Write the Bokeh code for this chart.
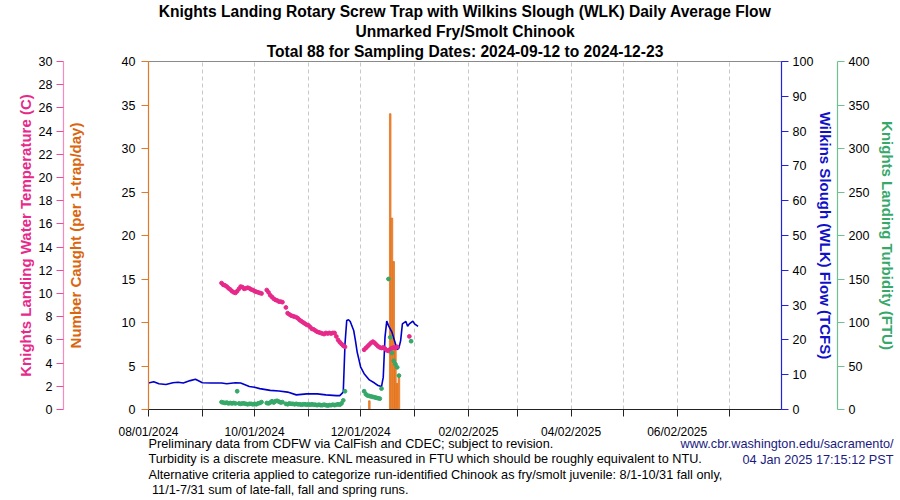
from bokeh.plotting import figure
from bokeh.models import Range1d, LinearAxis, FixedTicker, Label, Title
from bokeh.layouts import column
from bokeh.embed import file_html
from bokeh.resources import INLINE

# ---------------- data (x = days since 2024-08-01) ----------------
count_ticks = [0, 5, 10, 15, 20, 25, 30, 35, 40]
temp_ticks = [0, 2, 4, 6, 8, 10, 12, 14, 16, 18, 20, 22, 24, 26, 28, 30]
flow_ticks = [0, 10, 20, 30, 40, 50, 60, 70, 80, 90, 100]
turb_ticks = [0, 50, 100, 150, 200, 250, 300, 350, 400]

month_start_days = [0, 31, 61, 92, 122, 153, 184, 212, 243, 273, 304, 334]
tick_label_days = [0, 61, 122, 184, 243, 304]
tick_labels = ["08/01/2024", "10/01/2024", "12/01/2024", "02/02/2025", "04/02/2025", "06/02/2025"]

# Number caught (bars)
catch_days = [127, 139, 140, 141, 142, 143, 144]
catch_counts = [1, 34, 22, 17, 7, 3, 4]

# Wilkins Slough daily average flow (TCFS)
flow_days = [0, 3, 6, 10, 14, 17, 20, 24, 27, 31, 36, 42, 45, 50, 53, 58, 61, 64, 70, 75,
             80, 85, 91, 97, 102, 108, 110, 112, 113, 114, 115, 116, 118, 119, 120, 122, 124,
             127, 130, 132, 134, 135, 136, 137, 138, 140, 142, 143, 144, 145, 146, 148, 149,
             150, 152, 153, 155]
flow_values = [7.6, 8.0, 7.4, 7.2, 7.7, 7.85, 7.6, 8.3, 8.7, 7.7, 7.6, 7.6, 7.4, 7.7, 7.6, 6.6,
               6.4, 6.0, 5.5, 5.3, 5.0, 4.2, 4.5, 4.5, 4.2, 4.0, 4.0, 5.0, 18.9, 25.6, 25.8,
               25.3, 22.7, 19.8, 16.5, 12.2, 10.3, 8.5, 7.6, 6.9, 6.6, 9.3, 20.8, 25.4, 24.1,
               22.2, 18.9, 17.2, 17.7, 19.8, 24.6, 25.3, 23.9, 24.6, 25.4, 24.6, 23.9]

# Daily series starting 2024-09-12 (day 42); None = no reading
daily_start_day = 42
temp_values = [10.9, 10.75, 10.7, 10.6, 10.45, 10.35, 10.2, 10.1, 10.05, 10.2, 10.4, 10.6,
               10.55, 10.4, 10.45, 10.5, 10.45, 10.35, 10.3, 10.2, 10.15, 10.1, 10.05, 10.0,
               None, None, 10.3, 10.1, 9.85, 9.7, 9.55, 9.45, 9.4, 9.3, 9.3, 9.25,
               None, 8.8, 8.3, 8.2, 8.1, 8.05, 8.0, 7.95, 7.85, 7.7, 7.6, 7.5, 7.4, 7.3, 7.25,
               7.1, 6.95, 6.9, 6.8, 6.7, 6.65, 6.6, 6.55, 6.5, 6.6, 6.55, 6.6, 6.55, 6.6, 6.6,
               6.3, 6.0, 5.8, 5.65, 5.5, 5.4,
               None, None, None, None, None, None, None, None, None, None,
               5.15, 5.3, 5.45, 5.6, 5.75, 5.85, 5.75, 5.6, 5.45, 5.35, 5.3, 5.35, 5.25, 5.1,
               5.05, 5.2, 5.3, 5.35, 5.3, 5.4,
               None, None, None, None, None, None, 6.3]
turb_values = [8.5, 8.0, 7.5, 8.0, 7.0, 7.5, 7.0, 7.5, 7.0, 21.0, 7.0, 6.5, 7.0, 7.0, 6.5,
               6.0, 6.5, 6.5, 6.0, 6.5, 6.0, 7.0, 7.5, 8.5,
               None, None, 7.5, 7.0, 8.0, 9.5, 8.0, 9.5, 10.0, 9.0, 8.0, 8.5,
               None, 6.5, 6.0, 7.0, 6.5, 6.5, 6.0, 6.5, 6.0, 6.0, 5.5, 6.0, 6.0, 5.5, 6.0,
               5.5, 6.0, 5.5, 5.5, 5.0, 5.5, 5.0, 5.0, 5.5, 5.0, 4.5, 5.0, 5.0, 5.5, 5.0,
               5.5, 6.0, 5.5, 7.0, 10.5, 21.0,
               None, None, None, None, None, None, None, None, None, None,
               21.0, 17.5, 16.0, 15.5, 15.0, 14.5, 14.0, 13.5, 13.0, 12.5, 24.0, None, None,
               None, 150.0, 83.0, 65.0, 56.0, 52.0, 48.5, 39.0,
               None, None, None, None, None, None, 78.5]

title_lines = ["Knights Landing Rotary Screw Trap with Wilkins Slough (WLK) Daily Average Flow",
               "Unmarked Fry/Smolt Chinook",
               "Total 88 for Sampling Dates: 2024-09-12 to 2024-12-23"]
note_lines = ["Preliminary data from CDFW via CalFish and CDEC; subject to revision.",
              "Turbidity is a discrete measure. KNL measured in FTU which should be roughly equivalent to NTU.",
              "Alternative criteria applied to categorize run-identified Chinook as fry/smolt juvenile: 8/1-10/31 fall only,",
              " 11/1-7/31 sum of late-fall, fall and spring runs."]
source_lines = ["www.cbr.washington.edu/sacramento/", "04 Jan 2025 17:15:12 PST"]

# ---------------- styles ----------------
FONT = "Liberation Sans"
ORANGE = "#D9660F"
PINK = "#E7298A"
BLUE = "#0000CC"
GREEN = "#36A86A"

temp_days = [daily_start_day + i for i in range(len(temp_values))]
turb_days = [daily_start_day + i for i in range(len(turb_values))]
temp_vals = [float("nan") if v is None else v for v in temp_values]
turb_vals = [float("nan") if v is None else v for v in turb_values]

p = figure(width=900, height=442, output_backend="svg", toolbar_location=None, title=None,
           x_range=Range1d(0, 364), y_range=Range1d(0, 40),
           min_border_left=148, min_border_right=119, min_border_top=61, min_border_bottom=33)
p.extra_y_ranges = {"temp": Range1d(0, 30), "flow": Range1d(0, 100), "turb": Range1d(0, 400)}
p.outline_line_color = "#8a8a8a"
p.background_fill_color = "white"
p.border_fill_color = "white"

# title lines: the one added first sits nearest the frame
title_standoffs = [2, 0, 2]
for t, s in reversed(list(zip(title_lines, title_standoffs))):
    p.add_layout(Title(text=t, align="center", vertical_align="middle", standoff=s,
                       text_font=FONT, text_font_size="15.6px", text_font_style="bold",
                       text_color="black"), "above")


def style_axis(ax, line_color, tick_color, label_color, title):
    ax.axis_line_color = line_color
    ax.axis_line_width = 1.2
    ax.major_tick_line_color = tick_color
    ax.major_tick_out = 7
    ax.major_tick_in = 0
    ax.minor_tick_line_color = None
    ax.major_label_text_font = FONT
    ax.major_label_text_font_size = "12.5px"
    ax.major_label_text_color = "black"
    ax.axis_label = title
    ax.axis_label_text_font = FONT
    ax.axis_label_text_font_size = "15px"
    ax.axis_label_text_font_style = "bold"
    ax.axis_label_text_color = label_color


# x axis
xa = p.xaxis[0]
xa.ticker = FixedTicker(ticks=month_start_days)
xa.major_label_overrides = {d: (tick_labels[tick_label_days.index(d)] if d in tick_label_days else "")
                            for d in month_start_days}
xa.axis_line_color = "#222222"
xa.major_tick_line_color = "#222222"
xa.major_tick_out = 7
xa.major_tick_in = 0
xa.minor_tick_line_color = None
xa.major_label_text_font = FONT
xa.major_label_text_font_size = "12px"
xa.major_label_text_color = "black"
xa.major_label_standoff = 8

p.xgrid.grid_line_color = "#c8c8c8"
p.xgrid.grid_line_dash = "4 3"
p.ygrid.visible = False

# orange count axis (inner left)
ya = p.yaxis[0]
ya.ticker = FixedTicker(ticks=count_ticks)
style_axis(ya, "#E07A2A", "#E07A2A", ORANGE, "Number Caught (per 1-trap/day)")
ya.major_label_standoff = 6
ya.axis_label_standoff = 35

# pink temperature axis (outer left)
ta = LinearAxis(y_range_name="temp", ticker=FixedTicker(ticks=temp_ticks))
style_axis(ta, "#F58CBF", "#EC4C9C", PINK, "Knights Landing Water Temperature (C)")
ta.major_label_standoff = 4
ta.axis_label_standoff = 2
p.add_layout(ta, "left")

# blue flow axis (inner right)
fa = LinearAxis(y_range_name="flow", ticker=FixedTicker(ticks=flow_ticks))
style_axis(fa, "#2222DD", "#2222DD", "#1010C8", "Wilkins Slough (WLK) Flow (TCFS)")
fa.major_label_standoff = 4
fa.axis_label_standoff = 1
p.add_layout(fa, "right")

# green turbidity axis (outer right)
ga = LinearAxis(y_range_name="turb", ticker=FixedTicker(ticks=turb_ticks))
style_axis(ga, "#70C090", "#70C090", GREEN, "Knights Landing Turbidity (FTU)")
ga.major_label_standoff = 4
ga.axis_label_standoff = 7
p.add_layout(ga, "right")

# ---------------- glyphs ----------------
p.vbar(x=catch_days, top=catch_counts, width=0.9, fill_color="#F08C3C",
       line_color="#E0680F", line_width=0.7)
p.line(flow_days, flow_values, y_range_name="flow", line_color=BLUE, line_width=1.6)
p.scatter(temp_days, temp_vals, y_range_name="temp", size=3.8, color=PINK)
p.scatter(turb_days, turb_vals, y_range_name="turb", size=3.8, color=GREEN)

# ---------------- footnote strip (own full-width frame) ----------------
f = figure(width=900, height=64, output_backend="svg", toolbar_location=None,
           x_axis_type=None, y_axis_type=None, x_range=Range1d(0, 1), y_range=Range1d(0, 1),
           min_border_left=0, min_border_right=0, min_border_top=0, min_border_bottom=0,
           frame_width=900, frame_height=64)
if "frame_align" in f.properties():
    f.frame_align = False
try:
    f.margin = (-6, 0, 0, 0)
except Exception:
    pass
f.outline_line_color = None
f.background_fill_color = None
f.border_fill_color = None
f.grid.visible = False
for i, t in enumerate(note_lines):
    f.add_layout(Label(x=148 + (3.5 if t.startswith(" ") else 0), y=57 - 15.5 * i,
                       x_units="screen", y_units="screen", text=t,
                       text_align="left", text_baseline="middle", text_font=FONT,
                       text_font_size="12.7px", text_color="black"))
for i, t in enumerate(source_lines):
    f.add_layout(Label(x=893, y=57 - 16 * i, x_units="screen", y_units="screen", text=t,
                       text_align="right", text_baseline="middle", text_font=FONT,
                       text_font_size="12.7px", text_color="#1a1a80"))

layout = column(p, f, spacing=0)
open("out.html", "w").write(file_html(layout, INLINE))
